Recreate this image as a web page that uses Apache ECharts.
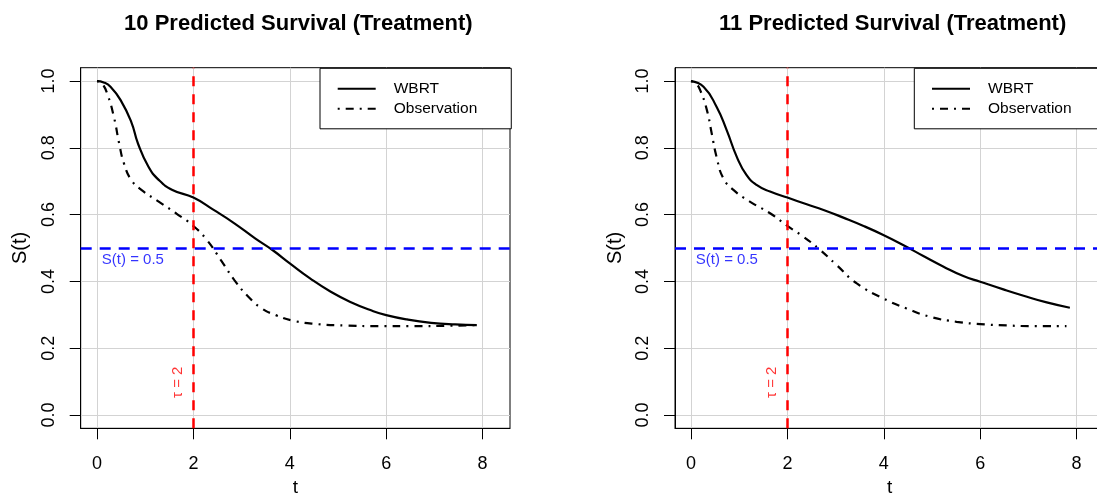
<!DOCTYPE html>
<html><head><meta charset="utf-8">
<script src="https://cdn.jsdelivr.net/npm/echarts@6/dist/echarts.min.js"></script>
<style>html,body{margin:0;padding:0;background:#fff}#c{width:1097px;height:494px}</style>
</head><body><div id="c"></div>
<script>
// ---- data ----
const titles = ['10 Predicted Survival (Treatment)', '11 Predicted Survival (Treatment)'];
const seriesNames = ['WBRT', 'Observation'];
const xTicks = [0, 2, 4, 6, 8];
const yTicks = [0, 0.2, 0.4, 0.6, 0.8, 1.0];
const tau = 2;
const halfLevel = 0.5;

const p10_wbrt_t = [0,0.14,0.28,0.49,0.71,0.85,1.065,1.28,1.565,2.0,2.42,2.85,3.28,3.64,4.0,4.42,4.85,5.28,5.71,6.0,6.43,6.93,7.43,7.88];
const p10_wbrt_s = [1.0,0.996,0.983,0.943,0.878,0.813,0.744,0.704,0.674,0.651,0.614,0.574,0.529,0.494,0.454,0.409,0.369,0.337,0.312,0.299,0.286,0.276,0.271,0.269];
const p10_obs_t = [0,0.1,0.21,0.35,0.46,0.56,0.71,0.92,1.28,1.64,2.0,2.28,2.57,2.85,3.14,3.42,3.71,4.07,4.57,5.14,5.85,6.57,7.28,7.85];
const p10_obs_s = [1.0,0.993,0.963,0.893,0.813,0.753,0.704,0.674,0.639,0.604,0.566,0.524,0.464,0.404,0.354,0.319,0.299,0.282,0.272,0.268,0.266,0.266,0.267,0.269];

const p11_wbrt_t = [0,0.26,0.53,0.74,0.95,1.15,1.36,1.64,2.0,2.4,2.75,3.16,3.58,3.99,4.4,4.82,5.24,5.65,6.0,6.48,6.9,7.38,7.86];
const p11_wbrt_s = [1.0,0.983,0.923,0.853,0.773,0.719,0.689,0.669,0.651,0.631,0.614,0.591,0.566,0.539,0.509,0.476,0.444,0.416,0.399,0.376,0.357,0.337,0.321];
const p11_obs_t = [0,0.1,0.19,0.33,0.43,0.53,0.67,0.88,1.22,1.64,2.0,2.33,2.68,3.02,3.44,3.99,4.47,4.96,5.51,6.0,6.55,7.1,7.79];
const p11_obs_s = [1.0,0.993,0.973,0.913,0.843,0.773,0.709,0.674,0.639,0.604,0.566,0.534,0.494,0.449,0.394,0.349,0.319,0.294,0.279,0.272,0.268,0.266,0.266];

const halfLabelPos = [0.745, 0.463];
const tauLabelPos = [1.674, 0.098];

// ---- build ----
const FONT = '"Liberation Sans", Arial, Helvetica, sans-serif';
const zip = (a, b) => a.map((v, i) => [v, b[i]]);
const panels = [
  {wt: p10_wbrt_t, ws: p10_wbrt_s, ot: p10_obs_t, os: p10_obs_s, left: 80.7, zeroX: 97},
  {wt: p11_wbrt_t, ws: p11_wbrt_s, ot: p11_obs_t, os: p11_obs_s, left: 675, zeroX: 691}
];
const unit = 48.2, gridW = 429.3, gridTop = 67.7, gridH = 360.6;

const option = {
  backgroundColor: '#fff',
  animation: false,
  textStyle: {fontFamily: FONT},
  title: [], grid: [], xAxis: [], yAxis: [], series: [], legend: []
};

panels.forEach((p, i) => {
  const xmin = (p.left - p.zeroX) / unit;
  const xmax = xmin + gridW / unit;
  option.title.push({
    text: titles[i], left: p.left + gridW / 2 - 2, top: 8, textAlign: 'center',
    textStyle: {fontFamily: FONT, fontSize: 22, fontWeight: 'bold', color: '#000'}
  });
  option.grid.push({
    left: p.left, top: gridTop, width: gridW, height: gridH,
    show: true, borderColor: '#000', borderWidth: 1, backgroundColor: 'transparent',
    containLabel: false, outerBoundsMode: 'none'
  });
  option.xAxis.push({
    type: 'value', gridIndex: i, min: xmin, max: xmax,
    name: 't', nameLocation: 'middle', nameGap: 50,
    nameTextStyle: {fontFamily: FONT, fontSize: 19, color: '#000'},
    axisLine: {show: true, onZero: false, lineStyle: {color: '#000', width: 1}},
    axisTick: {show: true, inside: false, length: 11, customValues: xTicks, lineStyle: {color: '#000'}},
    axisLabel: {show: true, customValues: xTicks, margin: 27, fontFamily: FONT, fontSize: 18, color: '#000',
      formatter: v => String(Math.round(v))},
    splitLine: {show: true, lineStyle: {color: '#d3d3d3', width: 1}}
  });
  option.yAxis.push({
    type: 'value', gridIndex: i, min: -0.04, max: 1.04,
    name: 'S(t)', nameLocation: 'middle', nameGap: 50, nameRotate: 90,
    nameTextStyle: {fontFamily: FONT, fontSize: 20, color: '#000'},
    axisLine: {show: true, onZero: false, lineStyle: {color: '#000', width: 1}},
    axisTick: {show: true, inside: false, length: 11, customValues: yTicks, lineStyle: {color: '#000'}},
    axisLabel: {show: true, customValues: yTicks, rotate: 90, margin: 23, fontFamily: FONT, fontSize: 18, color: '#000',
      formatter: v => v.toFixed(1)},
    splitLine: {show: true, lineStyle: {color: '#d3d3d3', width: 1}}
  });
  option.series.push({
    name: seriesNames[0], type: 'line', xAxisIndex: i, yAxisIndex: i,
    data: zip(p.wt, p.ws), showSymbol: false, symbol: 'none', smooth: 0.5,
    lineStyle: {color: '#000', width: 2.2, type: 'solid'}, itemStyle: {color: 'rgba(0,0,0,0)'}, z: 3
  });
  option.series.push({
    name: seriesNames[1], type: 'line', xAxisIndex: i, yAxisIndex: i,
    data: zip(p.ot, p.os), showSymbol: false, symbol: 'none', smooth: 0.5,
    lineStyle: {color: '#000', width: 2.2, type: [2, 6, 8, 6], cap: 'butt'}, itemStyle: {color: 'rgba(0,0,0,0)'}, z: 3
  });
  option.series.push({
    type: 'line', xAxisIndex: i, yAxisIndex: i, data: [], silent: true, z: 4,
    markLine: {
      silent: true, symbol: ['none', 'none'], label: {show: false}, animation: false,
      data: [
        {xAxis: tau, lineStyle: {color: '#ff0000', width: 2.5, type: [10, 8]}},
        {yAxis: halfLevel, lineStyle: {color: '#0000ff', width: 2.5, type: [11, 8]}}
      ]
    }
  });
  option.series.push({
    type: 'scatter', xAxisIndex: i, yAxisIndex: i, symbolSize: 0, silent: true, z: 5,
    data: [
      {value: halfLabelPos, label: {show: true, position: 'inside', formatter: 'S(t) = 0.5', color: '#0000ff', fontSize: 15, fontFamily: FONT}},
      {value: tauLabelPos, label: {show: true, position: 'inside', rotate: 90, formatter: 'τ = 2', color: '#ff0000', fontSize: 15, fontFamily: FONT}}
    ]
  });
  option.legend.push({
    data: seriesNames.slice(), orient: 'vertical', left: i === 0 ? 320 : 914.3, top: 68.3,
    padding: [12.5, 34, 12, 16.7], itemWidth: 38, itemHeight: 14, itemGap: 4,
    backgroundColor: '#fff', borderColor: '#000', borderWidth: 1, borderRadius: 0,
    selectedMode: false,
    itemStyle: {opacity: 0, color: 'rgba(0,0,0,0)', borderWidth: 0},
    textStyle: {fontFamily: FONT, fontSize: 15.5, color: '#000', padding: [0, 0, 0, 13]}
  });
});

const chart = echarts.init(document.getElementById('c'), null, {renderer: 'canvas'});
chart.setOption(option);
</script></body></html>
